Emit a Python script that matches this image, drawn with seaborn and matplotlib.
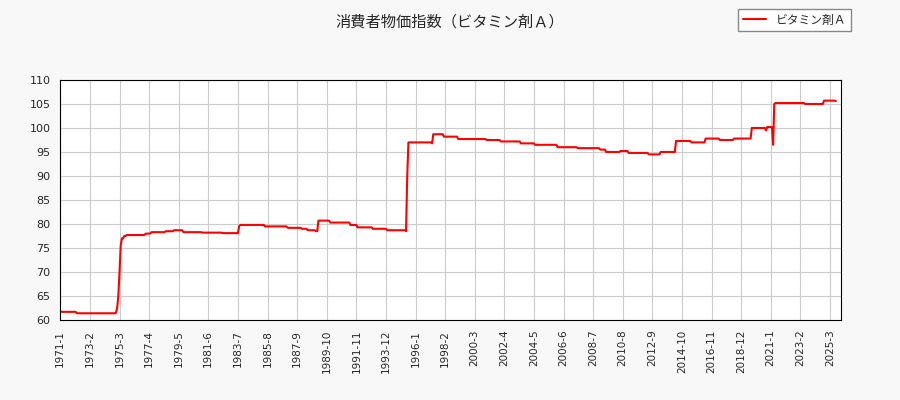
import matplotlib as mpl
mpl.use("Agg")
import matplotlib.pyplot as plt
import pandas as pd
import seaborn as sns

sns.set_style("whitegrid")
plt.rcParams["font.family"] = ["DejaVu Sans", "Noto Sans CJK JP"]

# change points (month, index value); held until next point
change_months = [
    "1971-01", "1972-03", "1974-12", "1975-01", "1975-02", "1975-03", "1975-04", "1975-05",
    "1975-07", "1975-09", "1977-01", "1977-06", "1978-06", "1979-01", "1979-09", "1981-01",
    "1982-06", "1983-08", "1983-09", "1985-06", "1987-01", "1988-01", "1988-06", "1989-01",
    "1989-03", "1990-01", "1991-06", "1991-12", "1993-01", "1994-01", "1995-05", "1995-06",
    "1995-07", "1997-03", "1997-04", "1998-01", "1999-01", "2001-01", "2002-01", "2003-06",
    "2004-06", "2006-01", "2007-06", "2009-01", "2009-06", "2010-06", "2011-01", "2012-06",
    "2013-04", "2014-05", "2015-06", "2016-06", "2017-06", "2018-06", "2019-09", "2020-09",
    "2020-10", "2021-03", "2021-04", "2021-05", "2023-06", "2024-10", "2025-08",
]
change_values = [
    61.7, 61.4, 61.5, 62.5, 65.0, 70.0, 75.5, 77.0,
    77.5, 77.7, 78.0, 78.3, 78.5, 78.7, 78.3, 78.2,
    78.1, 79.5, 79.8, 79.5, 79.2, 79.0, 78.7, 78.5,
    80.7, 80.3, 79.8, 79.3, 79.0, 78.7, 78.5, 90.0,
    97.0, 96.8, 98.7, 98.2, 97.7, 97.5, 97.2, 96.8,
    96.5, 96.0, 95.8, 95.5, 95.0, 95.2, 94.8, 94.5,
    95.0, 97.3, 97.0, 97.8, 97.5, 97.8, 100.0, 99.5,
    100.2, 96.5, 105.0, 105.2, 105.0, 105.7, 105.6,
]

months = pd.period_range("1971-01", "2025-08", freq="M")
s = pd.Series(change_values, index=pd.PeriodIndex(change_months, freq="M"))
s = s.reindex(months).ffill()
labels = [f"{p.year}-{p.month}" for p in months]
df = pd.DataFrame({"x": range(len(months)), "v": s.values})

fig = plt.figure(figsize=(9, 4), dpi=100, facecolor="#f8f8f8")
ax = fig.add_axes([0.067, 0.2, 0.867, 0.6])
sns.lineplot(data=df, x="x", y="v", color="red", lw=0.7, ax=ax, label="ビタミン剤Ａ", legend=False)
ax.set_xlim(0, len(months) + 3)
ax.set_ylim(60, 110)
ax.set_yticks(range(60, 111, 5))
ticks = list(range(0, len(months), 25))
ax.set_xticks(ticks)
ax.set_xticklabels([labels[i] for i in ticks], rotation=90, fontsize=7.5)
ax.tick_params(axis="y", labelsize=8)
ax.set_xlabel("")
ax.set_ylabel("")
ax.grid(color="#cccccc", lw=0.8)
for sp in ax.spines.values():
    sp.set_color("black")
    sp.set_linewidth(0.8)
fig.suptitle("消費者物価指数（ビタミン剤Ａ）", y=0.965, fontsize=11,
             family=["Noto Sans CJK JP", "DejaVu Sans"])
h, l = ax.get_legend_handles_labels()
h[0].set_linewidth(1.5)
fig.legend(h, l, loc="upper right", bbox_to_anchor=(0.952, 0.993),
           prop={"family": ["Noto Sans CJK JP", "DejaVu Sans"], "size": 8.5},
           fancybox=False, edgecolor="#888888", framealpha=1)
fig.savefig("out.png", dpi=100, facecolor=fig.get_facecolor())
